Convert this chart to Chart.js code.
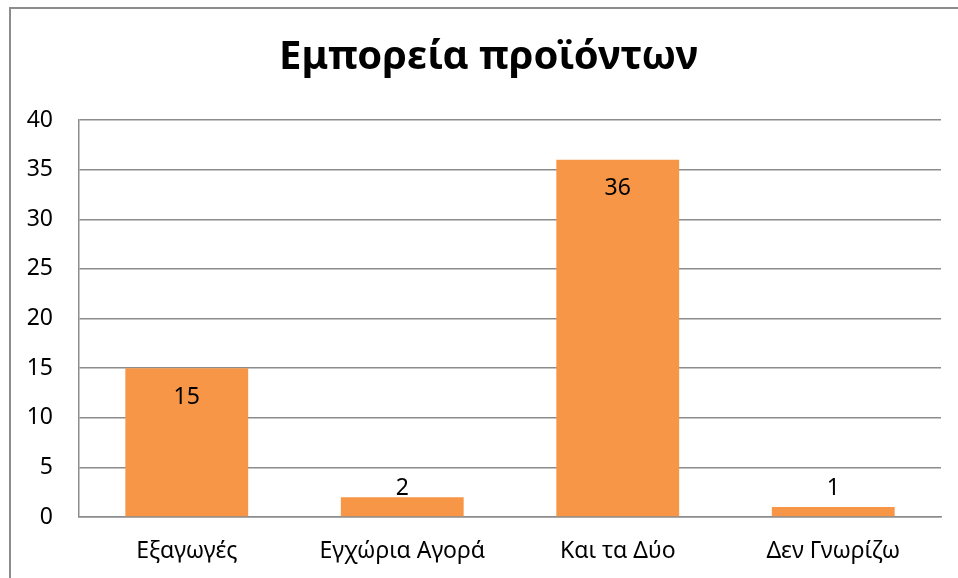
<!DOCTYPE html>
<html>
<head>
<meta charset="utf-8">
<script src="https://cdn.jsdelivr.net/npm/chart.js@4/dist/chart.umd.min.js"></script>
<style>
    html, body { margin: 0; padding: 0; background: #fff; }
    #wrap { position: relative; width: 958px; height: 578px; overflow: hidden; }
    #frame { position: absolute; left: 9px; top: 7px; width: 1000px; height: 700px;
             border-left: 2px solid #8c8c8c; border-top: 2px solid #8c8c8c; }
    canvas { position: absolute; left: 0; top: 0; }
</style>
</head>
<body>
<div id="wrap">
    <div id="frame"></div>
    <canvas id="tradeChart" width="958" height="578"></canvas>
</div>
<script>
// chart data
const titleText = 'Εμπορεία προϊόντων';
const categories = ['Εξαγωγές', 'Εγχώρια Αγορά', 'Και τα Δύο', 'Δεν Γνωρίζω'];
const counts = [15, 2, 36, 1];
const yTicks = [0, 5, 10, 15, 20, 25, 30, 35, 40];

const FONT = "'Noto Sans', 'DejaVu Sans', sans-serif";
const GRID = '#8c8c8c';

// value labels, Excel style "inside end", kept above the axis for short bars
const barLabels = {
    id: 'barLabels',
    afterLayout(chart) {
        // Excel centres the title over the whole chart object, a bit to the right
        const t = chart.titleBlock;
        if (t) { t.left += 36; t.width -= 36; }
    },
    afterDatasetsDraw(chart) {
        const ctx = chart.ctx;
        const meta = chart.getDatasetMeta(0);
        ctx.save();
        ctx.font = '23px ' + FONT;
        ctx.fillStyle = '#000';
        ctx.textAlign = 'center';
        ctx.textBaseline = 'middle';
        meta.data.forEach((bar, i) => {
            let y = Math.min(bar.y + 29, bar.base - 28);
            ctx.fillText(String(counts[i]), bar.x, y);
        });
        ctx.restore();
    }
};

const ctx = document.getElementById('tradeChart').getContext('2d');
new Chart(ctx, {
    type: 'bar',
    data: {
        labels: categories,
        datasets: [{
            data: counts,
            backgroundColor: '#F79646',
            borderWidth: 0,
            categoryPercentage: 1,
            barPercentage: 0.57
        }]
    },
    options: {
        responsive: false,
        animation: false,
        layout: {
            padding: { left: 0, right: 17, top: 0, bottom: 0 }
        },
        plugins: {
            legend: { display: false },
            tooltip: { enabled: false },
            title: {
                display: true,
                text: titleText,
                color: '#000',
                font: { family: FONT, size: 40, weight: 'bold', lineHeight: 1.2 },
                padding: { top: 34, bottom: 38 }
            }
        },
        scales: {
            x: {
                grid: { display: false, drawTicks: false },
                border: { display: true, color: GRID, width: 1.5 },
                ticks: {
                    color: '#000',
                    padding: 21,
                    font: { family: FONT, size: 23 }
                },
                afterFit(scale) { scale.height = 61; }
            },
            y: {
                min: 0,
                max: 40,
                afterBuildTicks(scale) {
                    scale.ticks = yTicks.map(v => ({ value: v }));
                },
                grid: { color: GRID, lineWidth: 1.5, drawTicks: false },
                border: { display: true, color: GRID, width: 1.5 },
                ticks: {
                    color: '#000',
                    padding: 26,
                    font: { family: FONT, size: 23 }
                },
                afterFit(scale) { scale.width = 79; }
            }
        }
    },
    plugins: [barLabels]
});
</script>
</body>
</html>
